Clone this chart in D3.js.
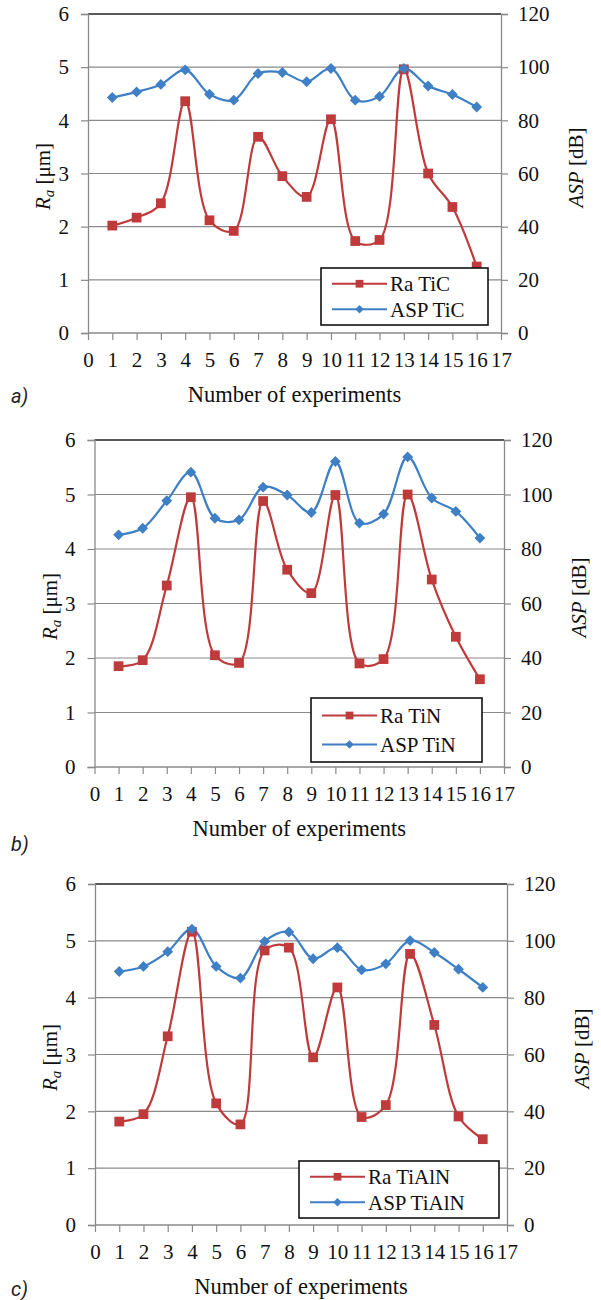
<!DOCTYPE html>
<html>
<head>
<meta charset="utf-8">
<script src="https://cdn.jsdelivr.net/npm/d3@7"></script>
<style>
  html, body { margin: 0; padding: 0; background: #fff; }
  svg { display: block; }
</style>
</head>
<body>
<svg id="chart" width="601" height="1300"></svg>
<script>
// ---------- DATA ----------
const experiments = [1, 2, 3, 4, 5, 6, 7, 8, 9, 10, 11, 12, 13, 14, 15, 16];
const xTicks = [0, 1, 2, 3, 4, 5, 6, 7, 8, 9, 10, 11, 12, 13, 14, 15, 16, 17];
const raTicks = [0, 1, 2, 3, 4, 5, 6];
const aspTicks = [0, 20, 40, 60, 80, 100, 120];

const raTiC   = [2.02, 2.17, 2.44, 4.36, 2.12, 1.92, 3.69, 2.95, 2.56, 4.02, 1.73, 1.75, 4.96, 3.00, 2.37, 1.25];
const aspTiC  = [88.6, 90.7, 93.5, 99.0, 89.8, 87.6, 97.6, 98.0, 94.5, 99.5, 87.6, 89.0, 99.5, 92.9, 89.7, 85.0];

const raTiN   = [1.85, 1.96, 3.33, 4.95, 2.05, 1.91, 4.88, 3.62, 3.19, 4.99, 1.90, 1.98, 5.00, 3.44, 2.39, 1.61];
const aspTiN  = [85.2, 87.6, 97.7, 108.2, 91.3, 90.7, 102.7, 99.8, 93.4, 112.1, 89.5, 92.8, 113.8, 98.7, 93.8, 84.0];

const raTiAlN  = [1.82, 1.95, 3.32, 5.16, 2.14, 1.77, 4.83, 4.88, 2.95, 4.18, 1.90, 2.11, 4.77, 3.52, 1.91, 1.51];
const aspTiAlN = [89.2, 91.0, 96.2, 104.1, 91.0, 86.9, 99.8, 103.1, 93.7, 97.6, 89.8, 91.9, 100.1, 95.9, 90.0, 83.6];

const panelLetters = ["a)", "b)", "c)"];
const raNames  = ["Ra TiC", "Ra TiN", "Ra TiAlN"];
const aspNames = ["ASP TiC", "ASP TiN", "ASP TiAlN"];
const xTitle = "Number of experiments";

// ---------- LAYOUT ----------
const panels = [
  { ra: raTiC, asp: aspTiC, L: 88, R: 501, T: 14, B: 333,
    legend: { x: 321, y: 268, w: 167, h: 57 }, letterY: 403 },
  { ra: raTiN, asp: aspTiN, L: 94.5, R: 504, T: 440, B: 767,
    legend: { x: 311, y: 698, w: 171, h: 64 }, letterY: 851 },
  { ra: raTiAlN, asp: aspTiAlN, L: 95, R: 507, T: 884, B: 1225,
    legend: { x: 299, y: 1161, w: 200, h: 57 }, letterY: 1296 }
];

const RED = "#BF3A3B";
const BLUE = "#3E7FC5";
const GRID = "#8a8a8a";
const SERIF = "Liberation Serif";

const svg = d3.select("#chart");

panels.forEach((p, i) => {
  const g = svg.append("g");
  const x = d3.scaleLinear().domain([0, 17]).range([p.L, p.R]);
  const yL = d3.scaleLinear().domain([0, 6]).range([p.B, p.T]);
  const yR = d3.scaleLinear().domain([0, 120]).range([p.B, p.T]);

  // gridlines
  g.append("g").selectAll("line").data(raTicks.slice(1)).join("line")
    .attr("x1", p.L).attr("x2", p.R)
    .attr("y1", d => yL(d)).attr("y2", d => yL(d))
    .attr("stroke", d => d === 6 ? "#222" : GRID)
    .attr("stroke-width", d => d === 6 ? 1.6 : 1.2);

  const axL = g.append("g").attr("transform", `translate(${p.L},0)`)
    .call(d3.axisLeft(yL).tickValues(raTicks).tickSize(7).tickPadding(12).tickFormat(d3.format("d")));
  const axR = g.append("g").attr("transform", `translate(${p.R},0)`)
    .call(d3.axisRight(yR).tickValues(aspTicks).tickSize(7).tickPadding(10).tickFormat(d3.format("d")));
  const axB = g.append("g").attr("transform", `translate(0,${p.B})`)
    .call(d3.axisBottom(x).tickValues(xTicks).tickSize(7).tickPadding(12).tickFormat(d3.format("d")));

  [axL, axR, axB].forEach(ax => {
    ax.attr("font-family", SERIF).attr("font-size", 21);
    ax.select(".domain").attr("stroke", GRID).attr("stroke-width", 1.3);
    ax.selectAll(".tick line").attr("stroke", GRID).attr("stroke-width", 1.2);
    ax.selectAll(".tick text").attr("font-family", SERIF).attr("font-size", 21).attr("fill", "#111");
  });
  axB.select(".domain").remove();
  g.append("line").attr("x1", p.L).attr("x2", p.R).attr("y1", p.B).attr("y2", p.B)
    .attr("stroke", GRID).attr("stroke-width", 1.3);

  const curve = d3.curveCatmullRom.alpha(0.5);
  const lineRa = d3.line().x((d, j) => x(experiments[j])).y(d => yL(d)).curve(curve);
  const lineAsp = d3.line().x((d, j) => x(experiments[j])).y(d => yR(d)).curve(curve);

  g.append("path").attr("d", lineRa(p.ra)).attr("fill", "none").attr("stroke", RED).attr("stroke-width", 2.2);
  g.append("path").attr("d", lineAsp(p.asp)).attr("fill", "none").attr("stroke", BLUE).attr("stroke-width", 2.2);

  const sq = d3.symbol().type(d3.symbolSquare).size(95);
  const dm = d3.symbol().type(d3.symbolDiamond2).size(75);

  g.append("g").selectAll("path").data(p.ra).join("path")
    .attr("transform", (d, j) => `translate(${x(experiments[j])},${yL(d)})`)
    .attr("d", sq).attr("fill", RED);
  g.append("g").selectAll("path").data(p.asp).join("path")
    .attr("transform", (d, j) => `translate(${x(experiments[j])},${yR(d)})`)
    .attr("d", dm).attr("fill", BLUE);

  // legend
  const lg = p.legend;
  const leg = g.append("g").attr("transform", `translate(${lg.x},${lg.y})`);
  leg.append("rect").attr("width", lg.w).attr("height", lg.h)
    .attr("fill", "#fff").attr("stroke", "#111").attr("stroke-width", 1.6);
  const rows = [
    { name: raNames[i], color: RED, sym: d3.symbol().type(d3.symbolSquare).size(60) },
    { name: aspNames[i], color: BLUE, sym: d3.symbol().type(d3.symbolDiamond2).size(45) }
  ];
  const rowH = lg.h / 2;
  rows.forEach((r, k) => {
    const cy = rowH * (k + 0.5) + (k === 0 ? 1.5 : -1.5);
    leg.append("line").attr("x1", 11).attr("x2", 66).attr("y1", cy).attr("y2", cy)
      .attr("stroke", r.color).attr("stroke-width", 2.2);
    leg.append("path").attr("transform", `translate(38.5,${cy})`).attr("d", r.sym).attr("fill", r.color);
    leg.append("text").attr("x", 69).attr("y", cy).attr("dy", "0.35em")
      .attr("font-family", SERIF).attr("font-size", 21).attr("fill", "#111").text(r.name);
  });

  // axis titles
  const midY = (p.T + p.B) / 2;
  const lt = g.append("text")
    .attr("transform", `translate(${p.L - 38},${midY + 3}) rotate(-90)`)
    .attr("text-anchor", "middle").attr("font-family", SERIF).attr("font-size", 21).attr("fill", "#111");
  lt.append("tspan").attr("font-style", "italic").text("R");
  lt.append("tspan").attr("font-style", "italic").attr("font-size", 15).attr("dy", 4).text("a");
  lt.append("tspan").attr("dy", -4).text(" [μm]");

  const rt = g.append("text")
    .attr("transform", `translate(${p.R + 82},${midY - 6}) rotate(-90)`)
    .attr("text-anchor", "middle").attr("font-family", SERIF).attr("font-size", 21).attr("fill", "#111");
  rt.append("tspan").attr("font-style", "italic").text("ASP");
  rt.append("tspan").text(" [dB]");

  g.append("text").attr("x", (p.L + p.R) / 2 + 0).attr("y", p.B + 69)
    .attr("text-anchor", "middle").attr("font-family", SERIF).attr("font-size", 22.5).attr("fill", "#111")
    .text(xTitle);

  g.append("text").attr("x", 11).attr("y", p.letterY)
    .attr("font-family", "Roboto").attr("font-style", "italic")
    .attr("font-size", 20).attr("fill", "#222").text(panelLetters[i]);
});
</script>
</body>
</html>
